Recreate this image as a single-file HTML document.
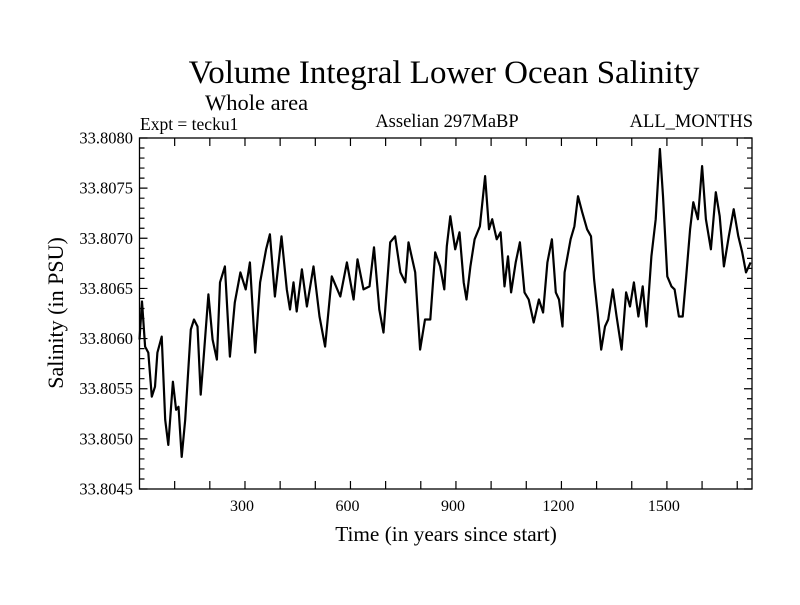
<!DOCTYPE html>
<html><head><meta charset="utf-8"><style>
body{margin:0;background:#fff}
svg text{font-family:"Liberation Serif",serif;fill:#000}
</style></head><body>
<svg id="chart" width="800" height="600">
<rect width="800" height="600" fill="#fff"/>
<text x="444" y="83" font-size="33" text-anchor="middle">Volume Integral Lower Ocean Salinity</text>
<text x="205" y="110" font-size="22.5">Whole area</text>
<text x="140" y="130" font-size="17.5">Expt = tecku1</text>
<text x="447" y="127" font-size="18.5" text-anchor="middle">Asselian 297MaBP</text>
<text x="753" y="127" font-size="18.5" text-anchor="end">ALL_MONTHS</text>
<text x="446" y="541" font-size="21.3" text-anchor="middle">Time (in years since start)</text>
<text transform="translate(63,313) rotate(-90)" font-size="22" text-anchor="middle">Salinity (in PSU)</text>
<g id="axes"></g>
<g id="plot"></g>
</svg>
<script>
const years=[0,7,16,25,35,44,51,63,73,82,95,104,111,120,130,146,155,165,174,182,196,208,220,229,243,257,271,287,302,314,329,343,360,371,385,404,419,428,438,447,462,476,495,512,528,547,571,590,609,620,637,654,667,682,694,713,727,742,756,765,784,798,812,827,841,855,867,874,884,898,910,922,930,941,953,968,983,994,1003,1016,1027,1038,1048,1057,1070,1082,1095,1107,1121,1136,1148,1160,1173,1184,1193,1203,1209,1226,1237,1247,1259,1273,1284,1293,1303,1313,1324,1333,1346,1357,1371,1384,1395,1406,1419,1431,1442,1456,1468,1480,1489,1501,1513,1522,1534,1545,1555,1566,1575,1588,1600,1611,1625,1639,1650,1662,1676,1690,1703,1714,1725,1738];
const salinityBase=33.8045;
const salinityOffsetE4=[14.9,18.7,14.2,13.6,9.2,10.2,13.6,15.2,6.9,4.4,10.7,7.9,8.2,3.2,6.9,15.9,16.9,16.2,9.4,12.9,19.4,14.9,12.9,20.6,22.2,13.2,18.6,21.6,19.9,22.6,13.6,20.6,23.9,25.4,19.2,25.2,19.9,17.9,20.6,17.7,21.9,18.2,22.2,17.2,14.2,21.2,19.2,22.6,18.9,22.9,19.9,20.2,24.1,17.9,15.6,24.6,25.2,21.6,20.6,24.6,21.6,13.9,16.9,16.9,23.6,22.2,19.9,24.2,27.2,23.9,25.6,20.6,18.9,22.2,24.9,26.2,31.2,25.9,26.9,24.9,25.6,20.2,23.2,19.6,22.6,24.6,19.6,18.9,16.6,18.9,17.6,22.6,24.9,19.6,18.9,16.2,21.6,24.9,26.2,29.2,27.6,25.9,25.2,20.9,17.6,13.9,16.2,16.9,19.9,17.2,13.9,19.6,18.2,20.6,17.2,20.2,16.2,23.2,26.9,33.9,29.2,21.2,20.2,19.9,17.2,17.2,21.2,25.9,28.6,26.9,32.2,26.9,23.9,29.6,27.2,22.2,25.2,27.9,25.2,23.6,21.6,22.6];
const xTickValues=[300,600,900,1200,1500];
const xTickLabels=["300","600","900","1200","1500"];
const yTickValues=[33.8045,33.8050,33.8055,33.8060,33.8065,33.8070,33.8075,33.8080];
const yTickLabels=["33.8045","33.8050","33.8055","33.8060","33.8065","33.8070","33.8075","33.8080"];

const L=139.5,R=752,T=138,B=489,X0=0,X1=1742,Y0=33.8045,Y1=33.8080;
const sx=v=>L+(v-X0)/(X1-X0)*(R-L);
const sy=v=>B-(v-Y0)/(Y1-Y0)*(B-T);
const NS="http://www.w3.org/2000/svg";
const axes=document.getElementById('axes'),plot=document.getElementById('plot');
function mk(tag,attrs,parent){const e=document.createElementNS(NS,tag);for(const k in attrs)e.setAttribute(k,attrs[k]);parent.appendChild(e);return e;}
const frame=mk('rect',{x:L,y:T,width:R-L,height:B-T,fill:'none',stroke:'#000','stroke-width':1.3},axes);


let tp='';
for(let v=100;v<X1;v+=100){const x=sx(v);tp+=`M${x},${B}v-8M${x},${T}v8`;}
for(let i=0;i<=35;i++){const v=Y0+i*0.0001;const y=sy(v);const len=(i%5===0)?8:5;tp+=`M${L},${y}h${len}M${R},${y}h${-len}`;}
const ticks=mk('path',{d:tp,stroke:'#000','stroke-width':1.2,fill:'none'},axes);


xTickValues.forEach((v,i)=>{const t=mk('text',{x:sx(v)-3,y:511,'font-size':16,'text-anchor':'middle'},axes);t.textContent=xTickLabels[i];

});
yTickValues.forEach((v,i)=>{const t=mk('text',{x:133,y:sy(v)+5.5,'font-size':16.5,'text-anchor':'end'},axes);t.textContent=yTickLabels[i];

});
const pts=years.map((yr,i)=>sx(yr).toFixed(1)+','+sy(salinityBase+salinityOffsetE4[i]*1e-4).toFixed(1)).join(' ');
const line=mk('polyline',{points:pts,fill:'none',stroke:'#000','stroke-width':2.2,'stroke-linejoin':'round'},plot);


</script>
</body></html>
